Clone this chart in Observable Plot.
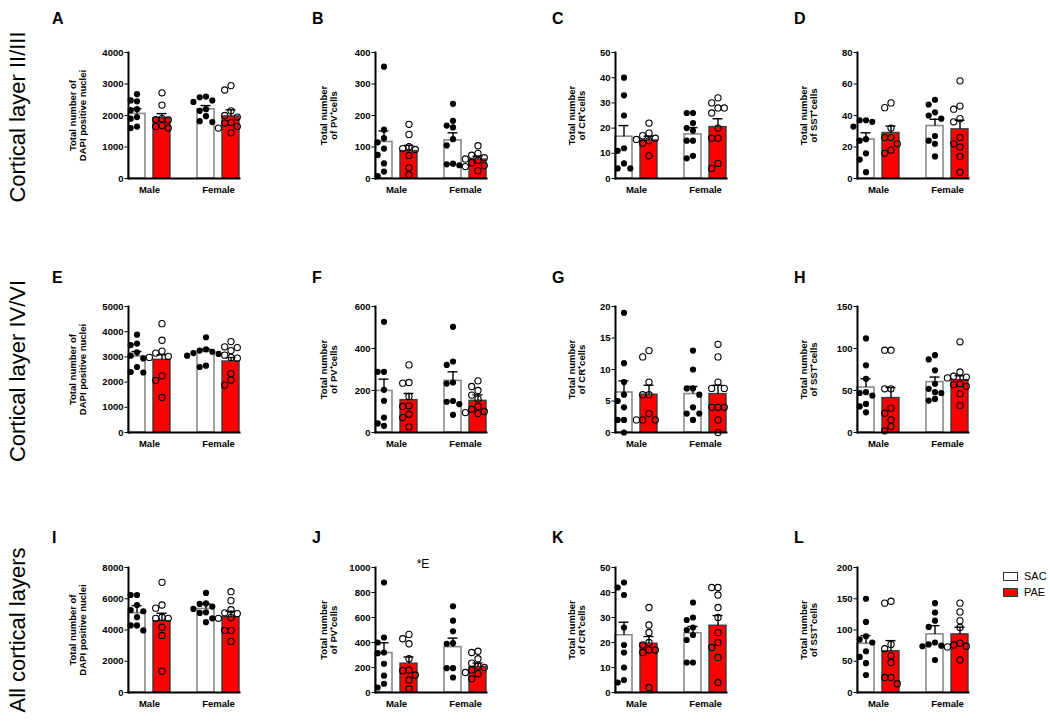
<!DOCTYPE html>
<html><head><meta charset="utf-8">
<script src="https://cdn.jsdelivr.net/npm/d3@7"></script>
<script src="https://cdn.jsdelivr.net/npm/@observablehq/plot@0.6"></script>
<style>
body{margin:0;background:#fff;font-family:"Liberation Sans",Arial,sans-serif;}
#fig{position:relative;width:1050px;height:721px;overflow:hidden;background:#fff;}
.panel{position:absolute;}
.letter{position:absolute;font-weight:bold;font-size:16px;line-height:1;}
.row{position:absolute;font-size:22px;white-space:nowrap;line-height:22px;transform:translate(-50%,-50%) rotate(-90deg);}
.leg{position:absolute;font-size:11px;line-height:1;display:flex;align-items:center;}
.sw{display:inline-block;width:13px;height:7px;border:1px solid #333;margin-right:6px;}
</style></head><body><div id="fig"></div>
<script>
// ---------- data ----------
const sexes = ["Male", "Female"];
const groups = ["SAC", "PAE"];
const groupColors = ["#ffffff", "#ff0000"];
const rowLabels = ["Cortical layer II/III", "Cortical layer IV/VI", "All cortical layers"];
const panelLetters = ["A","B","C","D","E","F","G","H","I","J","K","L"];
const yLabels = ["Total number of\nDAPI positive nuclei", "Total number\nof PV\u207Acells", "Total number\nof CR\u207Acells", "Total number\nof SST\u207Acells"];
const yMaxes = [4000, 400, 50, 80, 5000, 600, 20, 150, 8000, 1000, 50, 200];
const yTickSteps = [1000, 100, 10, 20, 1000, 200, 5, 50, 2000, 200, 10, 50];
const panelNotes = ["", "", "", "", "", "", "", "", "", "*E", "", ""];

// each: [Male SAC, Male PAE, Female SAC, Female PAE]
const dotsA = [[2680,2480,2450,2200,2170,1950,1900,1650,1600],[2720,2330,1900,1870,1860,1680,1650,1600],[2600,2580,2480,2430,2200,2150,1980,1820,1790],[2950,2810,2150,2000,1950,1780,1760,1650,1600,1450]];
const meansA = [2050, 1920, 2200, 1970];
const semsA = [160, 140, 115, 210];
const dotsB = [[355,155,128,115,95,75,48,22,8],[172,140,101,95,92,73,34,12],[237,183,168,162,125,105,47,45,42],[104,80,74,66,62,58,50,41,38,25]];
const meansB = [116, 87, 121, 60];
const semsB = [35, 18, 24, 11];
const dotsC = [[40,33,25,12,11,6,4,4],[22,18,17,16,15.5,15,14,9],[26,26,22,20,19,15,15,9,8],[32,30,28,28,26,20,16,16,6,4]];
const meansC = [16.6, 15.1, 17.5, 20.4];
const semsC = [4.4, 1.7, 2.7, 3.3];
const dotsD = [[37,37,36,33,25,24,16,12,4],[48,45,32,26,26,22,18,16],[50,47,42,40,38,27,24,22,14],[62,46,44,38,36,26,22,20,14,4]];
const meansD = [24.8, 28.9, 33.3, 31.2];
const semsD = [4.2, 4.4, 4.3, 5.8];
const dotsE = [[3880,3530,3470,3180,3050,2940,2600,2400,2380],[4320,3660,3230,3150,3020,2980,2250,2070,1390],[3780,3300,3250,3200,3150,3120,3050,2650,2600],[3610,3400,3370,3250,3070,2980,2950,2340,2080,1880]];
const meansE = [3016, 2884, 3200, 2818];
const semsE = [198, 199, 107, 159];
const dotsF = [[527,289,289,203,151,71,43,32],[322,238,235,172,127,124,87,71,27],[503,338,322,238,233,150,146,135,84],[246,219,200,178,160,124,111,100,95,90]];
const meansF = [198, 154, 246, 151];
const semsF = [56, 32, 43, 28];
const dotsG = [[19,11,8,6,5,4,2,2,0],[13,12,8,6,6,3,2,2,2],[13,10,7,7,6,4,3,3,2],[14,12,8,7,7,4,4,4,2,0]];
const meansG = [6.35, 6.0, 6.1, 6.1];
const semsG = [1.85, 1.5, 1.2, 1.4];
const dotsH = [[112,80,64,48,47,44,34,31,24],[98,98,52,52,29,23,15,7,2],[92,87,74,58,52,48,47,40,38],[108,72,67,66,65,58,57,55,46,32]];
const meansH = [53.6, 41, 60, 62.3];
const semsH = [10.4, 12.6, 6, 5.2];
const dotsI = [[6240,6240,5600,5280,5200,4820,4290,4290,3970],[7050,5600,5400,4820,4750,4750,4180,3650,1360],[6370,5700,5670,5500,5350,5130,5090,4750,4500],[6450,5880,5300,5100,5050,4800,4750,3970,3970,3270]];
const meansI = [5072, 4562, 5348, 4817];
const semsI = [488, 510, 318, 383];
const dotsJ = [[880,440,400,320,315,230,135,70,40],[465,430,390,270,180,175,140,100,30],[690,575,490,395,390,195,195,120],[330,320,270,235,210,200,180,160,150,110]];
const meansJ = [316, 231, 363, 204];
const semsJ = [82, 53, 72, 32];
const dotsK = [[44,42,39,26,19,16,10,5,4],[34,27,24,20,19,17,17,16,2],[36,30,29,26,25,23,21,12,12],[42,42,39,34,30,24,20,18,14,4]];
const meansK = [22.9, 19.5, 23.7, 26.7];
const semsK = [5.2, 2.9, 2.7, 4.1];
const dotsL = [[150,113,90,85,80,66,57,47,28],[146,143,77,70,59,48,24,24,14],[143,128,115,105,80,77,75,74,52],[143,129,115,104,79,76,74,73,52]];
const meansL = [78, 66, 93, 93];
const semsL = [13, 17, 14, 11.5];

const allDots = [dotsA, dotsB, dotsC, dotsD, dotsE, dotsF, dotsG, dotsH, dotsI, dotsJ, dotsK, dotsL];
const allMeans = [meansA, meansB, meansC, meansD, meansE, meansF, meansG, meansH, meansI, meansJ, meansK, meansL];
const allSems = [semsA, semsB, semsC, semsD, semsE, semsF, semsG, semsH, semsI, semsJ, semsK, semsL];

// ---------- layout ----------
const fig = document.getElementById("fig");
const colX = [119, 366, 606, 848];
const rowTop = [52, 306, 567];
const innerH = [126, 126, 125];
const letterX = [52, 312, 552, 794];
const letterBase = [24, 283, 543];
const rowCenterY = [117, 371, 630];
const labelOffsets = [59, 55, 47, 57];
const W = 128, mL = 66, mR = 8, mT = 16, mB = 26;
const barW = 17, barGap = 8, pairW = 2 * barW + barGap, pairStep = 69;
const fxPadInner = (pairStep - pairW) / pairStep;
const fxPadOuter = (W / pairStep - 2 + fxPadInner) / 2;
const dotR = 3.1, colSpacing = 6.3, minDist = 6.4;
const font = '"Liberation Sans", Arial, sans-serif';

// simple column swarm: values that would overlap vertically go to side columns
function swarmColumns(values, yMax, H) {
  const placed = [];
  return values.map(v => {
    const py = v / yMax * H;
    for (let k = 0; ; k++) {
      const col = k === 0 ? 0 : (k % 2 ? -Math.ceil(k / 2) : Math.ceil(k / 2));
      if (!placed.some(p => p.col === col && Math.abs(p.py - py) < minDist)) {
        placed.push({py, col});
        return col;
      }
    }
  });
}

panelLetters.forEach((letter, i) => {
  const r = Math.floor(i / 4), c = i % 4;
  const H = innerH[r];
  const yMax = yMaxes[i], yStep = yTickSteps[i];
  const keys = sexes.flatMap(sex => groups.map(group => ({sex, group})));
  const summary = keys.map((k, j) => ({...k, mean: allMeans[i][j], hi: allMeans[i][j] + allSems[i][j]}));
  const points = keys.flatMap((k, j) => {
    const cols = swarmColumns(allDots[i][j], yMax, H);
    return allDots[i][j].map((value, n) => ({...k, value, col: cols[n]}));
  });
  const marks = [
    Plot.barY(summary, {filter: d => d.group === groups[0], fx: "sex", x: "group", y: "mean", fill: groupColors[0], stroke: "#8a8a8a", strokeWidth: 1.6}),
    Plot.barY(summary, {filter: d => d.group === groups[1], fx: "sex", x: "group", y: "mean", fill: groupColors[1], stroke: "#3a3a3a", strokeWidth: 1.4}),
    Plot.ruleX(summary, {fx: "sex", x: "group", y1: "mean", y2: "hi", stroke: "black", strokeWidth: 1.4}),
    Plot.tickY(summary, {fx: "sex", x: "group", y: "hi", stroke: "black", strokeWidth: 1.4, insetLeft: 3.5, insetRight: 3.5})
  ];
  groups.forEach((g, gi) => {
    const cols = [...new Set(points.filter(d => d.group === g).map(d => d.col))];
    cols.forEach(col => {
      marks.push(Plot.dot(points, {
        filter: d => d.group === g && d.col === col, fx: "sex", x: "group", y: "value", r: dotR,
        dx: col * colSpacing,
        fill: gi === 0 ? "black" : "none", stroke: "black", strokeWidth: gi === 0 ? 0 : 1.1
      }));
    });
  });
  marks.push(
    Plot.frame({anchor: "left", facet: "super", stroke: "black", strokeWidth: 2}),
    Plot.frame({anchor: "bottom", facet: "super", stroke: "black", strokeWidth: 2})
  );
  if (panelNotes[i]) marks.push(Plot.text([panelNotes[i]], {facet: "super", frameAnchor: "top", dx: -8, dy: -8, fontWeight: "normal", fontSize: 12}));
  const chart = Plot.plot({
    width: mL + W + mR, height: mT + H + mB,
    marginLeft: mL, marginRight: mR, marginTop: mT, marginBottom: mB,
    style: {fontFamily: font, fontSize: "9.5px", fontWeight: "bold", color: "black", background: "transparent"},
    fx: {domain: sexes, paddingInner: fxPadInner, paddingOuter: fxPadOuter, label: null, tickSize: 0, tickPadding: 8, axis: "bottom"},
    x: {domain: groups, paddingInner: barGap / (barW + barGap), paddingOuter: 0, axis: null},
    y: {domain: [0, yMax], ticks: d3.range(0, yMax + yStep / 2, yStep), tickFormat: d3.format("d"), tickSize: 3.5, tickPadding: 1.5,
        label: yLabels[c], labelAnchor: "center", labelOffset: labelOffsets[c], labelArrow: "none"},
    marks
  });
  const holder = document.createElement("div");
  holder.className = "panel";
  holder.style.left = (colX[c] - mL) + "px";
  holder.style.top = (rowTop[r] - mT) + "px";
  holder.appendChild(chart);
  fig.appendChild(holder);

  const L = document.createElement("div");
  L.className = "letter";
  L.textContent = letter;
  L.style.left = letterX[c] + "px";
  L.style.top = (letterBase[r] - 13) + "px";
  fig.appendChild(L);
});

rowLabels.forEach((t, r) => {
  const d = document.createElement("div");
  d.className = "row";
  d.textContent = t;
  d.style.left = "18px";
  d.style.top = rowCenterY[r] + "px";
  fig.appendChild(d);
});

groups.forEach((g, k) => {
  const d = document.createElement("div");
  d.className = "leg";
  d.style.left = "1003px";
  d.style.top = (571 + k * 16) + "px";
  const sw = document.createElement("span");
  sw.className = "sw";
  sw.style.background = groupColors[k];
  d.appendChild(sw);
  d.appendChild(document.createTextNode(g));
  fig.appendChild(d);
});
</script></body></html>
